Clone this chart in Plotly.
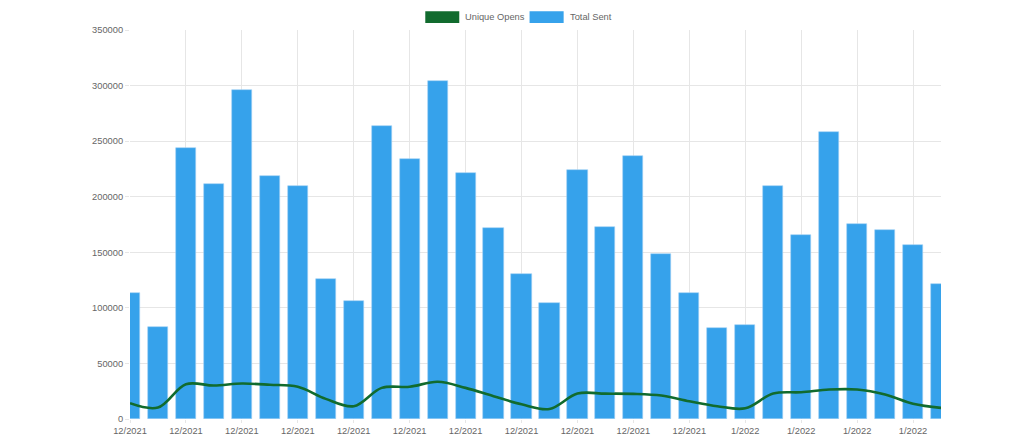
import plotly.graph_objects as go

months = ['12/2021'] * 22 + ['1/2022'] * 8

total_sent = [113500, 83200, 243900, 211800, 296300, 219000, 209700, 126400, 106300, 263700,
              234000, 304400, 221400, 172200, 130800, 104500, 224400, 173100, 236700, 148800,
              113500, 81700, 85000, 209400, 165300, 257900, 175200, 170100, 156300, 121200]

unique_opens = [14200, 10300, 31300, 30100, 31900, 30800, 29000, 18100, 11500, 28000,
                29000, 33500, 28000, 20500, 13200, 9000, 22900, 22800, 22600, 21100,
                16000, 11500, 9600, 22900, 24100, 26500, 26500, 22000, 13700, 10000]

y_ticks = [0, 50000, 100000, 150000, 200000, 250000, 300000, 350000]

idx = list(range(len(months)))
tick_idx = idx[::2]
tick_text = [months[i] for i in tick_idx]

grid = '#e6e6e6'
label_font = dict(family='Liberation Sans, Arial, sans-serif', size=9.3, color='#666666')

fig = go.Figure()

fig.add_trace(go.Bar(
    x=idx,
    y=total_sent,
    name='Total Sent',
    width=0.72,
    marker=dict(color='#36a2eb', line=dict(color='#9fd0f5', width=0.6)),
    showlegend=False
))

fig.add_trace(go.Scatter(
    x=idx,
    y=unique_opens,
    name='Unique Opens',
    mode='lines',
    line=dict(color='#116b2e', width=2.6, shape='spline', smoothing=1),
    showlegend=False
))

# legend drawn like chart.js boxes
legend_items = [('Unique Opens', '#116b2e', 0.3641, 0.4060, 0.4106),
                ('Total Sent', '#36a2eb', 0.4927, 0.5347, 0.5396)]
for label, color, x0, x1, xt in legend_items:
    fig.add_shape(type='rect', xref='paper', yref='paper',
                  x0=x0, x1=x1, y0=1.018, y1=1.048,
                  fillcolor=color, line=dict(color=color, width=0))
    fig.add_annotation(text=label, xref='paper', yref='paper', x=xt, y=1.033,
                       xanchor='left', yanchor='middle', showarrow=False,
                       font=label_font)

# page body has an 8px margin, so the figure is a bit smaller than the window
fig.update_layout(
    width=1016,
    height=436,
    margin=dict(l=122, r=83, t=22, b=25),
    plot_bgcolor='white',
    paper_bgcolor='white',
    bargap=0,
    font=label_font,
    xaxis=dict(
        range=[0, 29],
        tickmode='array',
        tickvals=tick_idx,
        ticktext=tick_text,
        showgrid=True,
        gridcolor=grid,
        gridwidth=1,
        ticks='outside',
        ticklen=3,
        tickcolor=grid,
        tickfont=label_font,
        zeroline=False,
        showline=False,
        automargin=False
    ),
    yaxis=dict(
        range=[0, 350000],
        tickmode='array',
        tickvals=y_ticks,
        ticktext=[str(v) for v in y_ticks],
        showgrid=True,
        gridcolor=grid,
        gridwidth=1,
        ticks='outside',
        ticklen=4,
        tickcolor=grid,
        tickfont=label_font,
        zeroline=False,
        showline=False,
        automargin=False
    )
)

fig.write_html('out.html')
